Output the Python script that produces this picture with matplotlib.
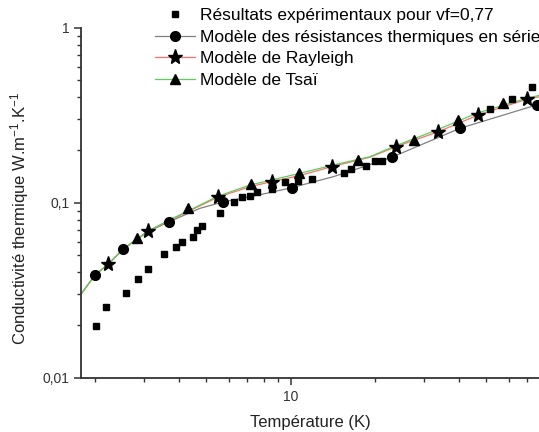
import matplotlib
matplotlib.use("Agg")
import matplotlib.pyplot as plt
from matplotlib.ticker import LogLocator, FixedLocator, NullFormatter, FixedFormatter

plt.rcParams['font.family'] = ['Liberation Sans', 'DejaVu Sans']
plt.rcParams['mathtext.default'] = 'regular'

# experimental points (vf = 0.77)
T_exp = [2.01, 2.19, 2.58, 2.84, 3.10, 3.53, 3.89, 4.10, 4.47, 4.63, 4.82, 5.57,
         6.29, 6.68, 7.16, 7.60, 8.55, 9.54, 10.65, 11.89, 15.54, 16.42, 18.53,
         20.0, 21.13, 51.5, 61.7, 72.6]
k_exp = [0.0198, 0.0253, 0.0304, 0.0365, 0.0416, 0.0507, 0.0560, 0.0596, 0.0634,
         0.0696, 0.0739, 0.0873, 0.1009, 0.1074, 0.1092, 0.1156, 0.1193, 0.1308,
         0.1330, 0.1361, 0.1472, 0.1552, 0.1627, 0.1730, 0.1738, 0.3430, 0.3888,
         0.4554]

# series thermal resistance model (grey)
T_serie = [1.783, 2.0, 2.232, 2.525, 3.1, 3.684, 4.745, 5.744, 8.209, 10.08, 14.2,
           17.68, 22.95, 40.22, 75.6, 77.06]
k_serie = [0.0300, 0.0386, 0.0446, 0.0544, 0.0685, 0.0779, 0.0929, 0.1010, 0.1132,
           0.1218, 0.1408, 0.1580, 0.1817, 0.2661, 0.3620, 0.3660]
T_serie_pts = [2.0, 2.525, 3.684, 5.744, 10.08, 22.95, 40.22, 75.6]
k_serie_pts = [0.0386, 0.0544, 0.0779, 0.1010, 0.1218, 0.1817, 0.2661, 0.3620]

# Rayleigh model (red)
T_ray = [1.783, 2.0, 2.232, 2.525, 3.1, 3.684, 4.617, 5.5, 7.156, 8.552, 10.79,
         14.01, 19.2, 23.77, 33.66, 46.77, 69.65, 77.06]
k_ray = [0.0300, 0.0386, 0.0446, 0.0544, 0.0689, 0.0790, 0.0940, 0.1075, 0.1235,
         0.1318, 0.1430, 0.1606, 0.1820, 0.2089, 0.2545, 0.3170, 0.3900, 0.4030]
T_ray_pts = [2.232, 3.1, 5.5, 8.552, 14.01, 23.77, 33.66, 46.77, 69.65]
k_ray_pts = [0.0446, 0.0689, 0.1075, 0.1318, 0.1606, 0.2089, 0.2545, 0.3170, 0.3900]

# Tsai model (green)
T_tsai = [1.783, 2.0, 2.232, 2.525, 3.1, 3.684, 4.617, 5.441, 7.156, 8.552, 10.79,
          14.2, 19.2, 23.25, 33.22, 46.17, 69.65, 77.06]
k_tsai = [0.0300, 0.0386, 0.0446, 0.0544, 0.0689, 0.0796, 0.0949, 0.1082, 0.1262,
          0.1348, 0.1472, 0.1642, 0.1832, 0.2089, 0.2602, 0.3243, 0.3950, 0.4100]
T_tsai_pts = [2.818, 4.309, 7.197, 10.71, 17.43, 27.63, 39.68, 57.2]
k_tsai_pts = [0.0625, 0.0930, 0.1280, 0.1475, 0.1755, 0.2290, 0.2980, 0.3720]

fig = plt.figure(figsize=(5.39, 4.32), dpi=100)
ax = fig.add_axes([0.1503, 0.1257, 0.8497, 0.8102])

# model curves
ax.plot(T_serie, k_serie, color='#808080', lw=0.9, zorder=2)
ax.plot(T_ray, k_ray, color='#ff7070', lw=0.9, zorder=2)
ax.plot(T_tsai, k_tsai, color='#5ccf5c', lw=0.9, zorder=2)

# markers
ax.plot(T_exp, k_exp, 's', color='black', ms=5, ls='none', zorder=3)
ax.plot(T_serie_pts, k_serie_pts, 'o', color='black', ms=7, ls='none', zorder=3)
ax.plot(T_ray_pts, k_ray_pts, '*', color='black', ms=11, ls='none', zorder=3)
ax.plot(T_tsai_pts, k_tsai_pts, '^', color='black', ms=7, ls='none', zorder=3)

# legend handles
h1, = ax.plot([], [], 's', color='black', ms=5, ls='none')
h2, = ax.plot([], [], '-o', color='#808080', mfc='black', mec='black', ms=7, lw=0.9)
h3, = ax.plot([], [], '-*', color='#ff7070', mfc='black', mec='black', ms=11, lw=0.9)
h4, = ax.plot([], [], '-^', color='#5ccf5c', mfc='black', mec='black', ms=7, lw=0.9)
fig.legend([h1, h2, h3, h4],
           ["Résultats expérimentaux pour vf=0,77",
            "Modèle des résistances thermiques en série",
            "Modèle de Rayleigh",
            "Modèle de Tsaï"],
           loc='upper left', bbox_to_anchor=(0.2876, 0.982), frameon=False,
           fontsize=12.5, handlelength=2.3, handletextpad=0.3, labelspacing=0.38,
           borderpad=0, borderaxespad=0, numpoints=1)

ax.set_xscale('log')
ax.set_yscale('log')
ax.set_xlim(1.783, 77.06)
ax.set_ylim(0.01, 1)

ax.xaxis.set_major_locator(FixedLocator([10]))
ax.xaxis.set_major_formatter(FixedFormatter(['10']))
ax.xaxis.set_minor_locator(LogLocator(base=10, subs=range(2, 10)))
ax.xaxis.set_minor_formatter(NullFormatter())

ax.yaxis.set_major_locator(FixedLocator([0.01, 0.1, 1]))
ax.yaxis.set_major_formatter(FixedFormatter(['0,01', '0,1', '1']))
ax.yaxis.set_minor_locator(LogLocator(base=10, subs=range(2, 10)))
ax.yaxis.set_minor_formatter(NullFormatter())

ax.spines['top'].set_visible(False)
ax.spines['right'].set_visible(False)
for s in ['left', 'bottom']:
    ax.spines[s].set_linewidth(1.3)
    ax.spines[s].set_color('#333333')
ax.tick_params(which='major', direction='out', length=5, width=1.1, labelsize=10,
               color='#333333', labelcolor='#333333')
ax.tick_params(which='minor', direction='out', length=3, width=1.0, color='#333333')

ax.set_xlabel("Température (K)", fontsize=12, color='#222222', labelpad=8)
ax.set_ylabel(r"Conductivité thermique W.m$^{-1}$.K$^{-1}$", fontsize=12, color='#222222')
ax.yaxis.set_label_coords(-0.11, 0.455)

fig.savefig("out.png", dpi=100)
